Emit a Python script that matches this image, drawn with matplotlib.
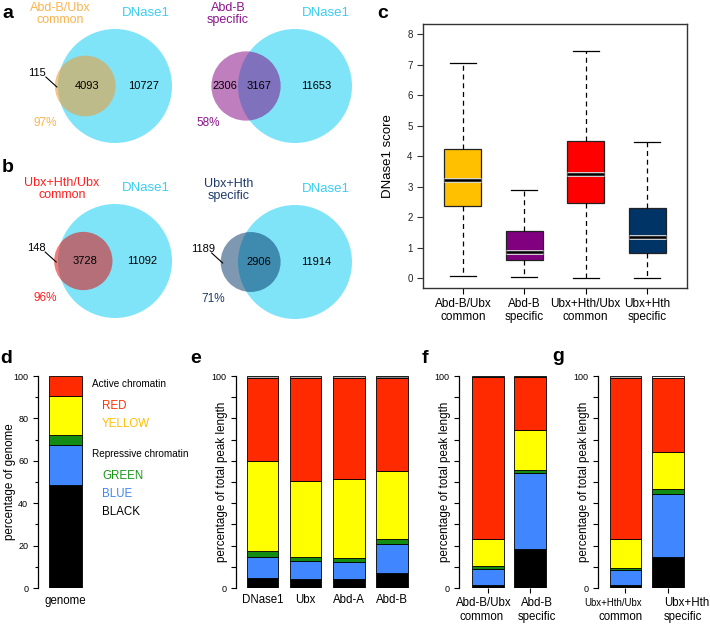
import numpy as np
import matplotlib
matplotlib.use('Agg')
from matplotlib import pyplot as plt
from matplotlib.patches import Circle
import matplotlib.patheffects as pe

plt.rcParams['font.family'] = ['Liberation Sans', 'DejaVu Sans']

W, H = 710, 626

# --- data -----------------------------------------------------------------
# Venn panels a/b: peaks only in factor set, shared with DNase1, only in DNase1
venn_names = ['Abd-B/Ubx\ncommon', 'Abd-B\nspecific', 'Ubx+Hth/Ubx\ncommon', 'Ubx+Hth\nspecific']
venn_only = [115, 2306, 148, 1189]
venn_shared = [4093, 3167, 3728, 2906]
venn_dnase_only = [10727, 11653, 11092, 11914]

# panel c: DNase1 score box stats
box_names = ['Abd-B/Ubx\ncommon', 'Abd-B\nspecific', 'Ubx+Hth/Ubx\ncommon', 'Ubx+Hth\nspecific']
box_low = [0.08, 0.05, 0.0, 0.0]
box_q1 = [2.37, 0.60, 2.47, 0.84]
box_med = [3.22, 0.85, 3.41, 1.36]
box_q3 = [4.24, 1.54, 4.50, 2.30]
box_high = [7.05, 2.89, 7.46, 4.46]

# chromatin states, bottom to top: BLACK, BLUE, GREEN, YELLOW, RED, unassigned
genome = [48.4, 18.9, 5.1, 18.3, 9.3, 0.0]

e_names = ['DNase1', 'Ubx', 'Abd-A', 'Abd-B']
e_dnase1 = [4.7, 9.7, 3.2, 42.1, 39.2, 1.1]
e_ubx = [4.2, 8.4, 2.2, 35.7, 48.6, 0.9]
e_abda = [4.1, 8.1, 2.1, 37.2, 47.6, 0.9]
e_abdb = [7.2, 13.5, 2.4, 32.0, 44.1, 0.8]

f_names = ['Abd-B/Ubx\ncommon', 'Abd-B\nspecific']
f_common = [1.3, 7.8, 1.1, 13.0, 76.5, 0.3]
f_specific = [18.2, 36.1, 1.3, 18.7, 25.4, 0.3]

g_names = ['Ubx+Hth/Ubx\ncommon', 'Ubx+Hth\nspecific']
g_common = [1.6, 6.7, 1.0, 13.8, 75.8, 1.1]
g_specific = [14.4, 30.0, 2.1, 17.6, 34.8, 1.1]

# --- styles ---------------------------------------------------------------
cyan = '#80E4F9'
cyan_text = '#3CCDF2'
venn_fill = ['#E8A040', '#800080', '#E01010', '#003366']
venn_alpha = [0.6, 0.5, 0.55, 0.5]
venn_text = ['#F9B450', '#8B158B', '#FF2020', '#1F3A6A']
box_colors = ['#FFC000', '#800080', '#FF0000', '#003366']
state_colors = ['#000000', '#3F86FF', '#138C13', '#FFFF00', '#FF2A00', '#B4B4B4']


def box(l, t, r, b):
    return [l / W, 1 - b / H, (r - l) / W, (b - t) / H]


def overlap(r1, r2, d):
    if d >= r1 + r2:
        return 0.0
    if d <= abs(r1 - r2):
        return np.pi * min(r1, r2) ** 2
    a1 = r1 ** 2 * np.arccos((d * d + r1 * r1 - r2 * r2) / (2 * d * r1))
    a2 = r2 ** 2 * np.arccos((d * d + r2 * r2 - r1 * r1) / (2 * d * r2))
    k = np.sqrt((-d + r1 + r2) * (d + r1 - r2) * (d - r1 + r2) * (d + r1 + r2))
    return a1 + a2 - 0.5 * k


fig = plt.figure(figsize=(W / 100, H / 100), dpi=100)

canvas = fig.add_axes([0, 0, 1, 1])
canvas.set_xlim(0, W)
canvas.set_ylim(H, 0)
canvas.axis('off')

# --- a / b: area-proportional Venn diagrams -------------------------------
R = 57.0
big_xy = [(115, 86), (295, 86), (115, 261), (295, 262)]
name_x = [60, 228, 62, 229]
pct_x = [45, 208, 45, 213]
for i in range(4):
    n_f = venn_only[i] + venn_shared[i]
    n_d = venn_shared[i] + venn_dnase_only[i]
    r = R * np.sqrt(n_f / n_d)
    target = venn_shared[i] / n_d * np.pi * R ** 2
    lo, hi = abs(R - r), R + r
    for _ in range(60):
        mid = (lo + hi) / 2
        if overlap(R, r, mid) > target:
            lo = mid
        else:
            hi = mid
    cx, cy = big_xy[i]
    sx = cx - (lo + hi) / 2
    canvas.add_patch(Circle((cx, cy), R, fc=cyan, ec='none'))
    canvas.add_patch(Circle((sx, cy), r, fc=venn_fill[i], alpha=venn_alpha[i], ec='none'))

    s_left, s_right, b_left, b_right = sx - r, sx + r, cx - R, cx + R
    canvas.text((b_left + s_right) / 2, cy, str(venn_shared[i]), ha='center', va='center', fontsize=8)
    canvas.text((s_right + b_right) / 2, cy, str(venn_dnase_only[i]), ha='center', va='center', fontsize=8)
    if b_left - s_left > 20:
        canvas.text((s_left + b_left) / 2, cy, str(venn_only[i]), ha='center', va='center', fontsize=8)
    else:
        canvas.text(s_left - 18, cy - 13, str(venn_only[i]), ha='center', va='center', fontsize=8)
        canvas.plot([s_left - 9, s_left + 2], [cy - 9, cy + 1], color='black', lw=0.8)
    pct = 100 * venn_shared[i] / n_f
    canvas.text(pct_x[i], cy + 37, '%d%%' % round(pct), ha='center', va='center',
                fontsize=8.5, color=venn_text[i])
    canvas.text(name_x[i], cy - 72, venn_names[i], ha='center', va='center', fontsize=9,
                color=venn_text[i], linespacing=1.05)
    canvas.text(cx + 31, cy - 73, 'DNase1', ha='center', va='center', fontsize=9.5, color=cyan_text)

# --- c: box plot ----------------------------------------------------------
axc = fig.add_axes(box(423, 24, 687, 288))
stats = []
for i in range(4):
    stats.append(dict(med=box_med[i], q1=box_q1[i], q3=box_q3[i],
                      whislo=box_low[i], whishi=box_high[i], fliers=[]))
bp = axc.bxp(stats, positions=[1, 2, 3, 4], widths=0.6, patch_artist=True,
             showfliers=False, capwidths=0.42,
             boxprops=dict(edgecolor='#222222', linewidth=0.9),
             whiskerprops=dict(linestyle=(0, (4, 3)), linewidth=0.9, color='black'),
             capprops=dict(linewidth=0.9, color='black'),
             medianprops=dict(color='black', linewidth=1.8,
                              path_effects=[pe.Stroke(linewidth=3.5, foreground='#d8d8d8'), pe.Normal()]))
for patch, c in zip(bp['boxes'], box_colors):
    patch.set_facecolor(c)
axc.set_xlim(0.35, 4.65)
axc.set_ylim(-0.32, 8.33)
axc.set_yticks(range(0, 9))
axc.set_xticks([1, 2, 3, 4])
axc.set_xticklabels(box_names, fontsize=8.5, linespacing=1.15)
axc.tick_params(axis='y', labelsize=7, length=4, width=0.8, colors='#333333', labelcolor='#222222')
axc.tick_params(axis='x', length=4, width=0.8, pad=3)
for s in axc.spines.values():
    s.set_linewidth(1.0)
    s.set_color('#333333')
canvas.text(388, 156, 'DNase1 score', rotation=90, ha='center', va='center', fontsize=9.5)


# --- d-g: stacked chromatin bars ------------------------------------------
def stacked(ax, bars, tops, width):
    for i, segs in enumerate(bars):
        bottom = 0
        for j, v in enumerate(segs):
            c = state_colors[j] if j < 5 else tops[i]
            if v > 0:
                ax.bar(i, v, bottom=bottom, width=width, color=c, edgecolor='black', linewidth=0.6)
            bottom += v
    ax.set_ylim(0, 100)
    for s in ['top', 'right', 'bottom']:
        ax.spines[s].set_visible(False)
    ax.spines['left'].set_linewidth(0.9)
    ax.tick_params(axis='y', labelsize=6.5, length=3.5, width=0.8)
    ax.set_facecolor('none')


axd = fig.add_axes(box(38, 376, 86, 588))
stacked(axd, [genome], ['#B4B4B4'], 1.0)
axd.set_xlim(-0.833, 0.621)
axd.set_yticks(range(0, 101, 20))
axd.set_yticks(range(10, 100, 20), minor=True)
axd.tick_params(axis='y', which='minor', length=2.5, width=0.8)
axd.set_xticks([0])
axd.set_xticklabels(['genome'], fontsize=8.3)
axd.tick_params(axis='x', length=0, pad=5)
canvas.text(10, 482, 'percentage of genome', rotation=90, ha='center', va='center', fontsize=8.4)

legend_items = [('Active chromatin', 384, 'black', 7.2, 92),
                ('RED', 406, '#FF3300', 8.3, 102),
                ('YELLOW', 424, '#FFC000', 8.3, 102),
                ('Repressive chromatin', 454, 'black', 7.2, 92),
                ('GREEN', 476, '#159615', 8.3, 102),
                ('BLUE', 494, '#3D85F0', 8.3, 102),
                ('BLACK', 512, 'black', 8.3, 102)]
for txt, y, col, fs, x in legend_items:
    canvas.text(x, y, txt, ha='left', va='center', fontsize=fs, color=col)

ticks10 = list(range(0, 101, 10))
labels10 = ['0'] + [''] * 9 + ['100']

axe = fig.add_axes(box(236, 376, 412, 588))
stacked(axe, [e_dnase1, e_ubx, e_abda, e_abdb], ['#B4B4B4', '#B4B4B4', '#B4B4B4', '#808080'], 0.73)
axe.set_xlim(-0.613, 3.46)
axe.set_yticks(ticks10)
axe.set_yticklabels(labels10)
axe.set_xticks(range(4))
axe.set_xticklabels(e_names, fontsize=8.3)
axe.tick_params(axis='x', length=0, pad=4)
canvas.text(222, 482, 'percentage of total peak length', rotation=90, ha='center', va='center', fontsize=8.4)

axf = fig.add_axes(box(459, 376, 550, 588))
stacked(axf, [f_common, f_specific], ['#808080', '#808080'], 0.75)
axf.set_xlim(-0.68, 1.46)
axf.set_yticks(ticks10)
axf.set_yticklabels(labels10)
axf.set_xticks(range(2))
axf.set_xticklabels(['', ''])
axf.tick_params(axis='x', length=3.5, width=0.8)
canvas.text(445, 482, 'percentage of total peak length', rotation=90, ha='center', va='center', fontsize=8.4)

axg = fig.add_axes(box(598, 376, 690, 588))
stacked(axg, [g_common, g_specific], ['#B4B4B4', '#F2F2F2'], 0.75)
axg.set_xlim(-0.647, 1.52)
axg.set_yticks(ticks10)
axg.set_yticklabels(labels10)
axg.set_xticks(range(2))
axg.set_xticklabels(['', ''])
axg.tick_params(axis='x', length=3.5, width=0.8)
canvas.text(584, 482, 'percentage of total peak length', rotation=90, ha='center', va='center', fontsize=8.4)

# two-line category labels of f and g, placed as in the original layout
f_lab = [(484, 'center', 8.3, 482, 'center'), (537, 'center', 8.3, 537, 'center')]
g_lab = [(642, 'right', 6.9, 643, 'right'), (664, 'left', 8.3, 664, 'left')]
for names, lab in [(f_names, f_lab), (g_names, g_lab)]:
    for name, (x1, ha1, fs1, x2, ha2) in zip(names, lab):
        top, bottom = name.split('\n')
        canvas.text(x1, 603, top, ha=ha1, va='center', fontsize=fs1)
        canvas.text(x2, 617, bottom, ha=ha2, va='center', fontsize=8.3)

# panel letters
for letter, x, y in [('a', 2, 18), ('b', 2, 172), ('c', 377, 18), ('d', 0, 363),
                     ('e', 190, 363), ('f', 422, 363), ('g', 552, 361)]:
    canvas.text(x, y, letter, ha='left', va='baseline', fontsize=14, fontweight='bold')

fig.savefig('out.png', dpi=100)
